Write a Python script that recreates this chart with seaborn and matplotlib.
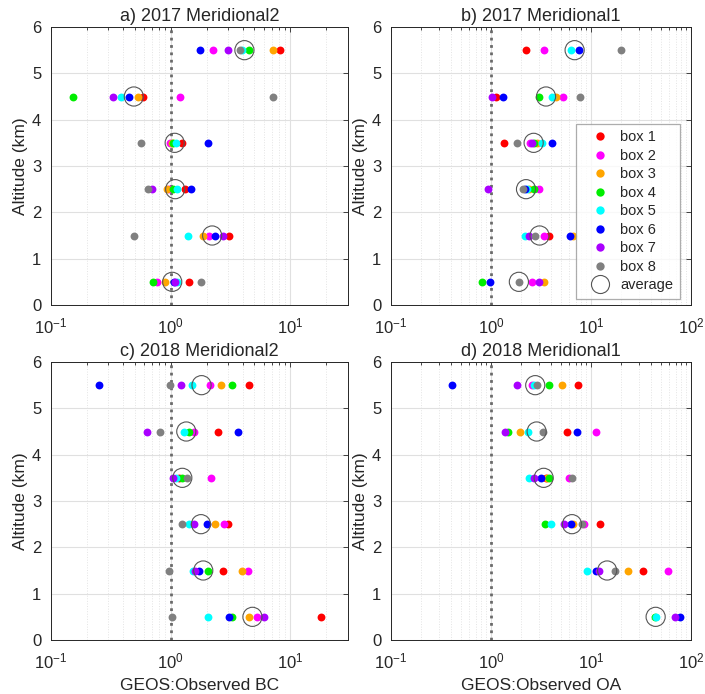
import numpy as np
import pandas as pd
import matplotlib
matplotlib.use("Agg")
import matplotlib.pyplot as plt
from matplotlib.lines import Line2D
from matplotlib.ticker import LogLocator, NullFormatter
import seaborn as sns

nan = np.nan
altitudes = [0.5, 1.5, 2.5, 3.5, 4.5, 5.5]
box_names = ["box 1", "box 2", "box 3", "box 4", "box 5", "box 6", "box 7", "box 8"]
box_colors = ["#ff0000", "#ff00ff", "#ffa500", "#00ee00", "#00ffff", "#0000ff", "#aa00ff", "#808080"]

titles = ["a) 2017 Meridional2", "b) 2017 Meridional1", "c) 2018 Meridional2", "d) 2018 Meridional1"]
xlabels = ["", "", "GEOS:Observed BC", "GEOS:Observed OA"]
xmax = [30, 100, 30, 100]

# rows = box 1..8, columns = altitudes 0.5..5.5 km
bc_2017_m2 = [
    [1.42, 3.09, 1.32, 1.24, 0.589, 8.24],
    [0.77, 2.08, 0.97, 0.98, 1.2, 2.27],
    [0.90, 1.87, 0.93, 1.03, 0.531, 7.14],
    [0.706, nan, 1.05, 1.05, 0.153, 4.47],
    [1.12, 1.39, 1.13, 1.1, 0.385, 3.95],
    [1.07, 2.34, 1.48, 2.06, 0.449, 1.77],
    [1.09, 2.75, 0.70, nan, 0.327, 2.99],
    [1.79, 0.49, 0.644, 0.56, 7.14, 3.8],
]
bc_2017_m2_avg = [1.03, 2.22, 1.09, 1.08, 0.492, 4.13]

oa_2017_m1 = [
    [nan, 3.8, nan, 1.36, 1.13, 2.22],
    [2.57, 3.36, 2.99, 2.47, 5.25, 3.39],
    [3.41, 6.6, 2.4, 2.88, 4.43, nan],
    [0.82, nan, 2.71, 2.71, 3.02, nan],
    [nan, 2.17, 2.29, 3.26, 4.1, 6.35],
    [0.97, 6.2, 2.18, 4.04, 1.32, 7.58],
    [3.04, 2.38, 0.93, 2.55, 1.02, nan],
    [1.9, 2.77, 2.09, 1.83, 7.7, 19.95],
]
oa_2017_m1_avg = [1.9, 3.06, 2.24, 2.67, 3.55, 6.86]

bc_2018_m2 = [
    [17.9, 2.74, 3.01, 1.18, 2.48, 4.55],
    [5.24, 4.4, 2.8, 2.17, 1.57, 2.14],
    [4.52, 3.92, 2.36, nan, nan, 2.63],
    [3.23, 2.03, nan, 1.24, 1.42, 3.23],
    [2.06, 1.54, 1.42, 1.11, 1.29, 1.51],
    [3.07, 1.72, 2.02, nan, 3.63, 0.253],
    [6.04, 1.61, 1.56, 1.05, 0.64, 1.22],
    [1.03, 0.96, 1.24, 1.38, 0.81, 0.99],
]
bc_2018_m2_avg = [4.82, 1.87, 1.79, 1.25, 1.35, 1.81]

oa_2018_m1 = [
    [nan, 33.4, 12.4, 3.53, 5.8, 7.47],
    [nan, 59.3, 8.5, 6.07, 11.1, 2.59],
    [nan, 23.4, 6.6, 3.6, 1.94, 5.13],
    [44.0, nan, 3.44, 3.83, 1.47, 3.83],
    [44.3, 9.19, 3.98, 2.42, 2.36, 2.7],
    [77.5, 11.2, 6.26, 3.16, 7.3, 0.41],
    [69.7, 11.9, 5.33, 2.71, 1.37, 1.82],
    [nan, 17.3, 8.19, 6.4, 3.34, 2.9],
]
oa_2018_m1_avg = [44.3, 14.5, 6.45, 3.36, 2.86, 2.77]

panels = [bc_2017_m2, oa_2017_m1, bc_2018_m2, oa_2018_m1]
panel_avgs = [bc_2017_m2_avg, oa_2017_m1_avg, bc_2018_m2_avg, oa_2018_m1_avg]

sns.set_style("white")
plt.rcParams["font.family"] = ["Liberation Sans", "DejaVu Sans"]
plt.rcParams["mathtext.default"] = "regular"

fig = plt.figure(figsize=(7.05, 6.94), dpi=100)
W, H = 705.0, 694.0
rects = [
    (51, 305, 296.5), (391, 305, 300),
    (51, 640, 296.5), (391, 640, 300),
]
palette = dict(zip(box_names, box_colors))

for i, (x0, ybot, w) in enumerate(rects):
    ax = fig.add_axes([x0 / W, (H - ybot) / H, w / W, 278 / H])
    rows = []
    for b, vals in zip(box_names, panels[i]):
        for alt, v in zip(altitudes, vals):
            rows.append({"box": b, "alt": alt, "ratio": v})
    df = pd.DataFrame(rows).dropna()
    ax.set_xscale("log")
    ax.set_xlim(0.1, xmax[i])
    ax.set_ylim(0, 6)
    # grid
    ax.grid(True, which="major", axis="both", color="#e0e0e0", linewidth=0.8, zorder=0)
    ax.grid(True, which="minor", axis="x", color="#e4e4e4", linestyle=":", linewidth=0.7, zorder=0)
    ax.axvline(1, color="#6a6a6a", linestyle=":", linewidth=2.0, zorder=1)
    for b in box_names:
        sub = df[df["box"] == b]
        sns.scatterplot(data=sub, x="ratio", y="alt", color=palette[b], s=32,
                        linewidth=0, ax=ax, legend=False, zorder=3)
    avg_df = pd.DataFrame({"ratio": panel_avgs[i], "alt": altitudes})
    sns.scatterplot(data=avg_df, x="ratio", y="alt", color="#555555", s=190,
                    linewidth=0.8, ax=ax, legend=False, zorder=4)
    coll = ax.collections[-1]
    coll.set_facecolor("none")
    coll.set_edgecolor("#555555")

    ax.set_title(titles[i], fontsize=13, pad=4)
    ax.set_xlabel(xlabels[i], fontsize=12.5, labelpad=5)
    ax.set_ylabel("Altitude (km)", fontsize=12.5, labelpad=3)
    ax.set_yticks(range(0, 7))
    ax.xaxis.set_major_locator(LogLocator(base=10, numticks=10))
    ax.xaxis.set_minor_locator(LogLocator(base=10, subs=np.arange(2, 10), numticks=20))
    ax.xaxis.set_minor_formatter(NullFormatter())
    ax.tick_params(which="both", direction="in", top=True, right=True,
                   labelsize=12, colors="#262626", length=3.5, width=0.6)
    ax.tick_params(which="minor", length=2)
    ax.tick_params(axis="y", which="major", pad=7)
    ax.tick_params(axis="x", which="major", pad=8)
    for sp in ax.spines.values():
        sp.set_color("#262626")
        sp.set_linewidth(0.7)
        sp.set_visible(True)

    if i == 1:
        handles = [Line2D([], [], marker="o", linestyle="none", markersize=6,
                          markerfacecolor=c, markeredgewidth=0) for c in box_colors]
        handles.append(Line2D([], [], marker="o", linestyle="none", markersize=13,
                              markerfacecolor="none", markeredgecolor="#555555", markeredgewidth=0.8))
        leg = ax.legend(handles, box_names + ["average"], loc="lower right",
                        bbox_to_anchor=(0.963, 0.022), borderaxespad=0,
                        fontsize=10.5, frameon=True,
                        fancybox=False, edgecolor="#999999", labelspacing=0.31,
                        handletextpad=0.2, borderpad=0.45, handlelength=2.4)
        leg.get_frame().set_linewidth(0.9)
        leg.set_zorder(10)

fig.savefig("out.png", dpi=100)
